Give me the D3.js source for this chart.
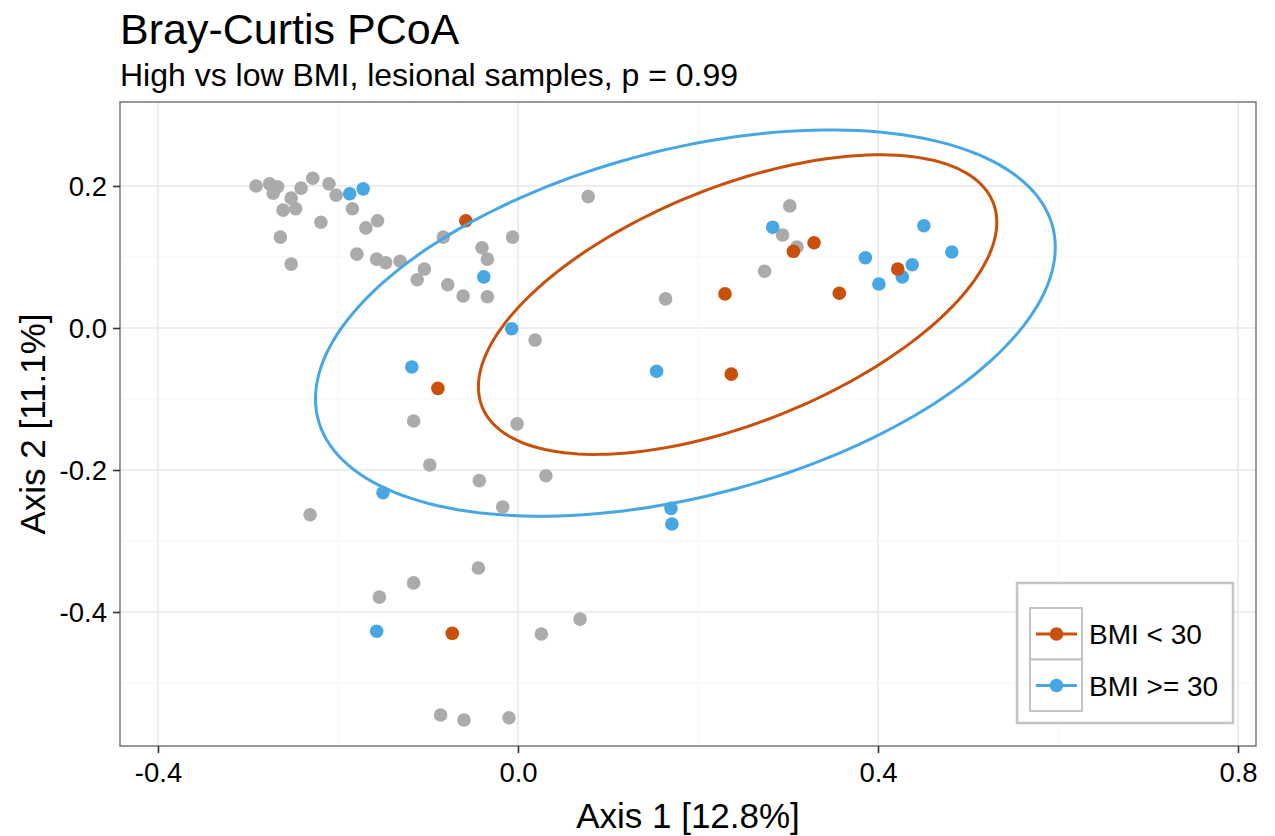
<!DOCTYPE html>
<html>
<head>
<meta charset="utf-8">
<script src="https://cdn.jsdelivr.net/npm/d3@7"></script>
<style>
  body { margin: 0; background: #fff; }
  text { font-family: "Liberation Sans", Arial, Helvetica, sans-serif; fill: #000; }
</style>
</head>
<body>
<svg id="chart" width="1275" height="836"></svg>
<script>
// samples without a BMI group (drawn grey), [axis1, axis2]
const otherPoints = [
  [-0.291, 0.200], [-0.276, 0.203], [-0.272, 0.190], [-0.267, 0.199], [-0.252, 0.183],
  [-0.261, 0.166], [-0.247, 0.168], [-0.241, 0.197], [-0.228, 0.211], [-0.210, 0.203],
  [-0.202, 0.187], [-0.184, 0.168], [-0.219, 0.149], [-0.264, 0.128], [-0.252, 0.090],
  [-0.169, 0.141], [-0.156, 0.151], [-0.179, 0.104], [-0.157, 0.097], [-0.147, 0.092],
  [-0.131, 0.094], [-0.104, 0.083], [-0.112, 0.068], [-0.078, 0.061], [-0.061, 0.045],
  [-0.034, 0.044], [-0.040, 0.113], [-0.034, 0.097], [-0.083, 0.128], [-0.006, 0.128],
  [0.078, 0.185], [0.019, -0.017], [-0.116, -0.131], [-0.001, -0.135], [-0.098, -0.193],
  [-0.043, -0.215], [0.031, -0.208], [-0.017, -0.252], [-0.231, -0.263], [-0.044, -0.338],
  [-0.116, -0.359], [-0.154, -0.379], [0.026, -0.431], [0.069, -0.410], [-0.086, -0.545],
  [-0.060, -0.552], [-0.010, -0.549], [0.164, 0.041], [0.302, 0.172], [0.294, 0.131],
  [0.310, 0.114], [0.274, 0.080]
];

// BMI >= 30
const highBmi = [
  [-0.187, 0.189], [-0.172, 0.196], [-0.038, 0.072], [-0.007, -0.001], [-0.118, -0.055],
  [-0.150, -0.232], [-0.157, -0.427], [0.154, -0.061], [0.170, -0.254], [0.171, -0.276],
  [0.283, 0.142], [0.386, 0.099], [0.401, 0.062], [0.427, 0.072], [0.438, 0.089],
  [0.451, 0.144], [0.482, 0.107]
];

// BMI < 30
const lowBmi = [
  [-0.058, 0.151], [-0.089, -0.085], [-0.073, -0.430], [0.230, 0.048], [0.237, -0.065],
  [0.306, 0.108], [0.329, 0.120], [0.357, 0.049], [0.422, 0.083]
];

// 95% ellipses: centre, half-extent on each axis, correlation
const lowEllipse = { cx: 0.244, cy: 0.033, rx: 0.288, ry: 0.211, rho: 0.549 };
const highEllipse = { cx: 0.186, cy: 0.007, rx: 0.411, ry: 0.272, rho: 0.392 };

const groups = ["BMI < 30", "BMI >= 30"];
const groupColors = ["#c9500b", "#46a7e4"];
const greyColor = "#ababab";

const xTicks = [-0.4, 0.0, 0.4, 0.8];
const xMinor = [-0.2, 0.2, 0.6];
const yTicks = [0.2, 0.0, -0.2, -0.4];
const yMinor = [0.1, -0.1, -0.3, -0.5];

const svg = d3.select("#chart");

const panel = { left: 120, right: 1256, top: 102, bottom: 746 };

const x = d3.scaleLinear().domain([-0.4422, 0.82]).range([panel.left, panel.right]);
const y = d3.scaleLinear().domain([-0.5887, 0.3183]).range([panel.bottom, panel.top]);

// titles
svg.append("text")
  .attr("x", 120).attr("y", 44)
  .style("font-size", "43px")
  .text("Bray-Curtis PCoA");

svg.append("text")
  .attr("x", 120).attr("y", 86)
  .style("font-size", "32px")
  .text("High vs low BMI, lesional samples, p = 0.99");

// grid
const grid = svg.append("g");
grid.selectAll(".xminor").data(xMinor).join("line")
  .attr("x1", d => x(d)).attr("x2", d => x(d))
  .attr("y1", panel.top).attr("y2", panel.bottom)
  .attr("stroke", "#f4f4f4").attr("stroke-width", 1);
grid.selectAll(".yminor").data(yMinor).join("line")
  .attr("y1", d => y(d)).attr("y2", d => y(d))
  .attr("x1", panel.left).attr("x2", panel.right)
  .attr("stroke", "#f4f4f4").attr("stroke-width", 1);
grid.selectAll(".xmajor").data(xTicks).join("line")
  .attr("x1", d => x(d)).attr("x2", d => x(d))
  .attr("y1", panel.top).attr("y2", panel.bottom)
  .attr("stroke", "#e8e8e8").attr("stroke-width", 1.6);
grid.selectAll(".ymajor").data(yTicks).join("line")
  .attr("y1", d => y(d)).attr("y2", d => y(d))
  .attr("x1", panel.left).attr("x2", panel.right)
  .attr("stroke", "#e8e8e8").attr("stroke-width", 1.6);

// points
const r = 6.8;
svg.append("g").selectAll("circle").data(otherPoints).join("circle")
  .attr("cx", d => x(d[0])).attr("cy", d => y(d[1])).attr("r", r)
  .attr("fill", greyColor);

svg.append("g").selectAll("circle").data(highBmi).join("circle")
  .attr("cx", d => x(d[0])).attr("cy", d => y(d[1])).attr("r", r)
  .attr("fill", groupColors[1]);

svg.append("g").selectAll("circle").data(lowBmi).join("circle")
  .attr("cx", d => x(d[0])).attr("cy", d => y(d[1])).attr("r", r)
  .attr("fill", groupColors[0]);

// ellipses
const ellipsePoints = (e) => d3.range(0, 361, 2).map(deg => {
  const t = deg * Math.PI / 180;
  return [e.cx + e.rx * Math.cos(t),
          e.cy + e.ry * (e.rho * Math.cos(t) + Math.sqrt(1 - e.rho * e.rho) * Math.sin(t))];
});
const line = d3.line().x(d => x(d[0])).y(d => y(d[1])).curve(d3.curveLinearClosed);

[[lowEllipse, groupColors[0]], [highEllipse, groupColors[1]]].forEach(([e, c]) => {
  svg.append("path")
    .attr("d", line(ellipsePoints(e)))
    .attr("fill", "none")
    .attr("stroke", c)
    .attr("stroke-width", 3);
});

// panel border
svg.append("rect")
  .attr("x", panel.left).attr("y", panel.top)
  .attr("width", panel.right - panel.left).attr("height", panel.bottom - panel.top)
  .attr("fill", "none").attr("stroke", "#6e6e6e").attr("stroke-width", 1.4);

// axes
const xAxis = svg.append("g")
  .attr("transform", `translate(0,${panel.bottom})`)
  .call(d3.axisBottom(x).tickValues(xTicks).tickFormat(d3.format(".1f")).tickSize(7).tickPadding(6));
const yAxis = svg.append("g")
  .attr("transform", `translate(${panel.left},0)`)
  .call(d3.axisLeft(y).tickValues(yTicks).tickFormat(d3.format(".1f")).tickSize(7).tickPadding(6));

[xAxis, yAxis].forEach(a => {
  a.select(".domain").remove();
  a.selectAll(".tick line").attr("stroke", "#333").attr("stroke-width", 1.6);
  a.selectAll(".tick text")
    .style("font-size", "27.5px")
    .style("font-family", "'Liberation Sans', Arial, sans-serif")
    .attr("fill", "#1a1a1a");
});
// d3 uses a proper minus sign; the chart uses a hyphen
svg.selectAll(".tick text").text(d => d3.format(".1f")(d).replace("−", "-"));
yAxis.selectAll(".tick text").attr("dy", "0.36em");
xAxis.selectAll(".tick text").attr("dy", "0.85em");

svg.append("text")
  .attr("x", (panel.left + panel.right) / 2).attr("y", 828)
  .attr("text-anchor", "middle")
  .style("font-size", "35px")
  .text("Axis 1 [12.8%]");

svg.append("text")
  .attr("transform", `translate(45,${(panel.top + panel.bottom) / 2}) rotate(-90)`)
  .attr("text-anchor", "middle")
  .style("font-size", "35px")
  .text("Axis 2 [11.1%]");

// legend
const legend = svg.append("g");
legend.append("rect")
  .attr("x", 1017).attr("y", 583).attr("width", 216).attr("height", 140)
  .attr("fill", "#fff").attr("stroke", "#c4c4c4").attr("stroke-width", 2.5);

groups.forEach((g, i) => {
  const top = 608 + i * 51.5;
  legend.append("rect")
    .attr("x", 1030).attr("y", top).attr("width", 52).attr("height", 51.5)
    .attr("fill", "#fff").attr("stroke", "#c4c4c4").attr("stroke-width", 2);
  legend.append("line")
    .attr("x1", 1036).attr("x2", 1077)
    .attr("y1", top + 26).attr("y2", top + 26)
    .attr("stroke", groupColors[i]).attr("stroke-width", 3);
  legend.append("circle")
    .attr("cx", 1056.5).attr("cy", top + 26).attr("r", r)
    .attr("fill", groupColors[i]);
  legend.append("text")
    .attr("x", 1089).attr("y", top + 26)
    .attr("dy", "0.36em")
    .style("font-size", "28px")
    .text(g);
});
</script>
</body>
</html>
